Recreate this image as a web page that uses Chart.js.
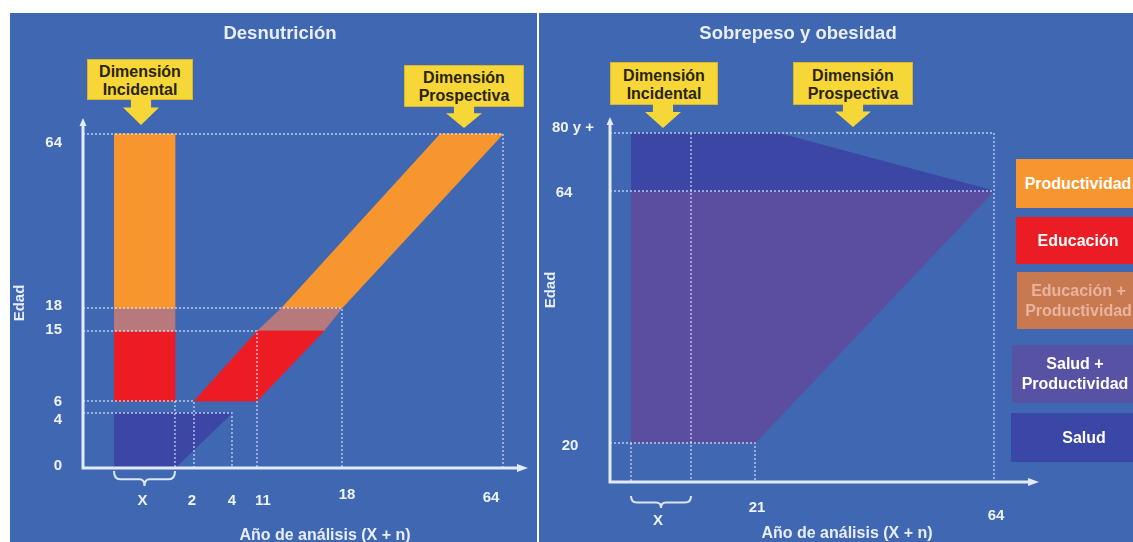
<!DOCTYPE html>
<html lang="es">
<head>
<meta charset="utf-8">
<title>Desnutrición · Sobrepeso y obesidad</title>
<script src="https://cdn.jsdelivr.net/npm/chart.js@4.4.1/dist/chart.umd.min.js"></script>
<style>
  html, body { margin: 0; padding: 0; background: #ffffff; width: 1133px; height: 542px; overflow: hidden;
    font-family: "Liberation Sans", Arial, sans-serif; }
  .panel { position: absolute; background: #3f67b2; }
  #pL { left: 10px; top: 13px; width: 527px; height: 529px; }
  #pR { left: 539px; top: 13px; width: 594px; height: 529px; }
  .panel canvas { position: absolute; left: 0; top: 0; }
  .title { position: absolute; color: #e9eef8; font-weight: bold; font-size: 18.5px; white-space: nowrap;
    transform: translate(-50%, -50%); }
  .callout { position: absolute; background: #f6d737; color: #2a2410; font-weight: bold; font-size: 16px;
    line-height: 18px; text-align: center; box-sizing: border-box; border: 1px solid #d9b62c;
    display: flex; align-items: center; justify-content: center; padding-top: 2px; }
  .arrow { position: absolute; background: #f6d737;
    clip-path: polygon(22% 0, 78% 0, 78% 33%, 100% 33%, 50% 100%, 0 33%, 22% 33%); }
  .leg { position: absolute; color: #ffffff; font-weight: bold; font-size: 16px; line-height: 20px;
    display: flex; align-items: center; justify-content: center; text-align: center; white-space: nowrap; }
</style>
</head>
<body>
<div class="panel" id="pL"><canvas id="cL" width="527" height="529"></canvas></div>
<div class="panel" id="pR"><canvas id="cR" width="594" height="529"></canvas></div>

<div class="title" style="left:280px; top:33px;">Desnutrición</div>
<div class="title" style="left:798px; top:33px;">Sobrepeso y obesidad</div>

<div class="callout" style="left:87px; top:59px; width:106px; height:41px;">Dimensión<br>Incidental</div>
<div class="arrow" style="left:123px; top:99px; width:36px; height:26px;"></div>
<div class="callout" style="left:404px; top:65px; width:120px; height:42px;">Dimensión<br>Prospectiva</div>
<div class="arrow" style="left:446px; top:106px; width:36px; height:22px;"></div>
<div class="callout" style="left:610px; top:62px; width:108px; height:43px;">Dimensión<br>Incidental</div>
<div class="arrow" style="left:645px; top:104px; width:36px; height:24px;"></div>
<div class="callout" style="left:793px; top:62px; width:120px; height:43px;">Dimensión<br>Prospectiva</div>
<div class="arrow" style="left:835px; top:104px; width:36px; height:23px;"></div>

<div class="leg" style="left:1016px; top:159px; width:124px; height:49px; background:#f7952f;">Productividad</div>
<div class="leg" style="left:1016px; top:217px; width:124px; height:47px; background:#ec1c24;">Educación</div>
<div class="leg" style="left:1017px; top:272px; width:123px; height:57px; background:#c8794f; color:#e8b49f;">Educación +<br>Productividad</div>
<div class="leg" style="left:1012px; top:345px; width:126px; height:58px; background:#5852a4;">Salud +<br>Productividad</div>
<div class="leg" style="left:1011px; top:413px; width:146px; height:49px; background:#3a47a6;">Salud</div>

<script>
// ---------- Desnutrición: ticks ----------
const desXTicks  = [0.5, 2, 4, 11, 18, 64];
const desXLabels = ['X', '2', '4', '11', '18', '64'];
const desYTicks  = [0, 4, 6, 15, 18, 64];
const desYLabels = ['0', '4', '6', '15', '18', '64'];

// ---------- Desnutrición: areas as [año (X + n), edad] vertices ----------
// dimensión incidental (year X, spans 0..1)
const desIncProductividad = [[0, 18], [1, 18], [1, 64], [0, 64]];
const desIncEduProd       = [[0, 15], [1, 15], [1, 18], [0, 18]];
const desIncEducacion     = [[0, 6], [1, 6], [1, 15], [0, 15]];
const desIncSalud         = [[0, 0], [1, 0], [4, 4], [0, 4]];
// dimensión prospectiva (cohort band)
const desProEducacion     = [[2, 6], [11, 6], [16.5, 15], [11, 15]];
const desProEduProd       = [[11, 15], [16.5, 15], [18, 18], [13, 18]];
const desProProductividad = [[13, 18], [18, 18], [64, 64], [46, 64]];
// reference guides
const desGuides = [
  [[-1, 64], [64, 64], [64, 0]],
  [[-1, 18], [18, 18], [18, 0]],
  [[-1, 15], [11, 15], [11, 0]],
  [[-1, 6], [2, 6], [2, 0]],
  [[-1, 4], [4, 4], [4, 0]],
  [[1, 6], [1, 0]]
];

// ---------- Sobrepeso y obesidad: ticks ----------
const obeXTicks  = [0.5, 21, 64];
const obeXLabels = ['X', '21', '64'];
const obeYTicks  = [20, 64, 80];
const obeYLabels = ['20', '64', '80 y +'];

// ---------- Sobrepeso y obesidad: areas ----------
const obeSalud         = [[0, 80], [25, 80], [64, 64], [0, 64]];
const obeSaludProd     = [[0, 64], [64, 64], [21, 20], [0, 20]];
const obeGuides = [
  [[-1, 80], [64, 80], [64, 0]],
  [[-1, 64], [64, 64]],
  [[-1, 20], [21, 20], [21, 0]],
  [[0, 20], [0, 0]],
  [[1, 80], [1, 0]]
];

// ---------- colours ----------
const C = {
  productividad: '#f7962f',
  educacion: '#ed1c24',
  eduProd: '#b6797c',
  salud: '#3c46a4',
  saludProd: '#5b4ea1',
  guide: 'rgba(222,233,255,0.78)',
  axis: '#e3ebf9',
  text: '#eef2fa'
};
const FONT = '"Liberation Sans", Arial, sans-serif';

// ---------- piecewise-linear axis: each stop value sits at a set fraction of the axis ----------
function interp(xs, ys, v) {
  let i = 1;
  while (i < xs.length - 1 && v > xs[i]) i++;
  const t = (v - xs[i - 1]) / (xs[i] - xs[i - 1]);
  return ys[i - 1] + t * (ys[i] - ys[i - 1]);
}
class PiecewiseScale extends Chart.LinearScale {
  static id = 'piecewise';
  getPixelForValue(value) {
    if (value === null || value === undefined || Number.isNaN(+value)) return NaN;
    const o = this.options;
    return this.getPixelForDecimal(interp(o.stopValues, o.stopFractions, +value));
  }
  getValueForPixel(pixel) {
    const o = this.options;
    return interp(o.stopFractions, o.stopValues, this.getDecimalForPixel(pixel));
  }
}
Chart.register(PiecewiseScale);

// ---------- dataset builders ----------
const pts = arr => arr.map(([x, y]) => ({ x, y }));
function area(arr, color) {
  return { data: pts(arr), backgroundColor: color, borderColor: color, borderWidth: 0.8,
    fill: 'shape', pointRadius: 0, tension: 0, order: 2 };
}
function guide(arr) {
  return { data: pts(arr), borderColor: C.guide, borderWidth: 1.4, borderDash: [2, 2],
    fill: false, pointRadius: 0, tension: 0, order: 1 };
}

// ---------- axes, tick labels, brace and titles ----------
function makeDecor(cfg) {
  return {
    id: 'decor',
    afterDatasetsDraw(chart) {
      const { ctx, chartArea: a } = chart;
      const xs = chart.scales.x, ys = chart.scales.y;
      const x0 = xs.getPixelForValue(xs.min);
      const y0 = ys.getPixelForValue(ys.min);
      ctx.save();

      // axis lines with arrowheads
      ctx.strokeStyle = C.axis; ctx.fillStyle = C.axis; ctx.lineWidth = 3;
      ctx.beginPath();
      ctx.moveTo(x0, y0 + 1.5); ctx.lineTo(x0, a.top + 6);
      ctx.moveTo(x0 - 1.5, y0); ctx.lineTo(a.right - 8, y0);
      ctx.stroke();
      ctx.beginPath();
      ctx.moveTo(x0, a.top); ctx.lineTo(x0 + 3.5, a.top + 8); ctx.lineTo(x0 - 3.5, a.top + 8); ctx.closePath();
      ctx.moveTo(a.right, y0); ctx.lineTo(a.right - 11, y0 - 4); ctx.lineTo(a.right - 11, y0 + 4); ctx.closePath();
      ctx.fill();

      // curly brace over the year X
      const bx0 = xs.getPixelForValue(cfg.brace.from), bx1 = xs.getPixelForValue(cfg.brace.to);
      const by = y0 + cfg.brace.dy, bh = cfg.brace.h, bm = by + bh * 0.55, xm = (bx0 + bx1) / 2;
      ctx.strokeStyle = '#dbe6f7'; ctx.lineWidth = 2;
      ctx.beginPath();
      ctx.moveTo(bx0, by);
      ctx.quadraticCurveTo(bx0, bm, bx0 + 6, bm);
      ctx.lineTo(xm - 5, bm);
      ctx.quadraticCurveTo(xm, bm, xm, by + bh);
      ctx.quadraticCurveTo(xm, bm, xm + 5, bm);
      ctx.lineTo(bx1 - 6, bm);
      ctx.quadraticCurveTo(bx1, bm, bx1, by);
      ctx.stroke();

      // tick labels
      ctx.fillStyle = C.text;
      ctx.font = 'bold 15px ' + FONT;
      ctx.textBaseline = 'middle';
      ctx.textAlign = cfg.yAlign;
      cfg.yTicks.forEach((v, i) => {
        const n = cfg.yNudge[i];
        ctx.fillText(cfg.yLabels[i], x0 + cfg.yDx + n[0], ys.getPixelForValue(v) + n[1]);
      });
      ctx.textAlign = 'center';
      cfg.xTicks.forEach((v, i) => {
        const n = cfg.xNudge[i];
        ctx.fillText(cfg.xLabels[i], xs.getPixelForValue(v) + n[0], y0 + cfg.xDy + n[1]);
      });

      // axis titles
      ctx.fillStyle = '#e8eef8';
      ctx.font = 'bold 16px ' + FONT;
      ctx.fillText('Año de análisis (X + n)', cfg.xTitle[0], cfg.xTitle[1]);
      ctx.font = 'bold 15px ' + FONT;
      ctx.translate(cfg.yTitle[0], cfg.yTitle[1]);
      ctx.rotate(-Math.PI / 2);
      ctx.fillText('Edad', 0, 0);
      ctx.restore();
    }
  };
}

function baseOptions(padding, xAxis, yAxis) {
  return {
    responsive: false, animation: false, events: [],
    layout: { padding },
    plugins: { legend: { display: false }, tooltip: { enabled: false }, title: { display: false } },
    scales: {
      x: Object.assign({ type: 'piecewise', display: false }, xAxis),
      y: Object.assign({ type: 'piecewise', display: false }, yAxis)
    }
  };
}

// ---------- Desnutrición ----------
new Chart(document.getElementById('cL'), {
  type: 'line',
  data: {
    datasets: [
      ...desGuides.map(guide),
      area(desIncProductividad, C.productividad),
      area(desIncEduProd, C.eduProd),
      area(desIncEducacion, C.educacion),
      area(desIncSalud, C.salud),
      area(desProEducacion, C.educacion),
      area(desProEduProd, C.eduProd),
      area(desProProductividad, C.productividad)
    ]
  },
  options: baseOptions(
    { left: 73, right: 9, top: 105, bottom: 74 },
    { min: -1, max: 70,
      stopValues:    [-1, 0, 1, 2, 4, 11, 18, 64, 70],
      stopFractions: [0, 0.0697, 0.2067, 0.2494, 0.3348, 0.3910, 0.5820, 0.9438, 1] },
    { min: 0, max: 68,
      stopValues:    [0, 4, 6, 15, 18, 64, 68],
      stopFractions: [0, 0.1571, 0.1914, 0.3914, 0.4571, 0.9543, 1] }
  ),
  plugins: [makeDecor({
    xTicks: desXTicks, xLabels: desXLabels, xDy: 33,
    xNudge: [[-2, 0], [-2, 0], [0, 0], [6, 0], [5, -6], [-12, -3]],
    yTicks: desYTicks, yLabels: desYLabels, yAlign: 'right', yDx: -21,
    yNudge: [[0, -2], [0, 7], [0, 1], [0, -1], [0, -2], [0, 9]],
    brace: { from: 0, to: 1, dy: 3, h: 15 },
    xTitle: [315, 523], yTitle: [10, 290]
  })]
});

// ---------- Sobrepeso y obesidad ----------
new Chart(document.getElementById('cR'), {
  type: 'line',
  data: {
    datasets: [
      ...obeGuides.map(guide),
      area(obeSalud, C.salud),
      area(obeSaludProd, C.saludProd)
    ]
  },
  options: baseOptions(
    { left: 71, right: 94, top: 104, bottom: 60 },
    { min: -1, max: 70,
      stopValues:    [-1, 0, 1, 21, 64, 70],
      stopFractions: [0, 0.0490, 0.1888, 0.3380, 0.8951, 1] },
    { min: 0, max: 85,
      stopValues:    [0, 20, 64, 80, 85],
      stopFractions: [0, 0.1068, 0.7973, 0.9562, 1] }
  ),
  plugins: [makeDecor({
    xTicks: obeXTicks, xLabels: obeXLabels, xDy: 32,
    xNudge: [[-3, 7], [2, -6], [2, 2]],
    yTicks: obeYTicks, yLabels: obeYLabels, yAlign: 'center', yDx: -40,
    yNudge: [[0, 3], [-6, 2], [3, -5]],
    brace: { from: 0, to: 1, dy: 14, h: 12 },
    xTitle: [308, 521], yTitle: [12, 277]
  })]
});
</script>
</body>
</html>
